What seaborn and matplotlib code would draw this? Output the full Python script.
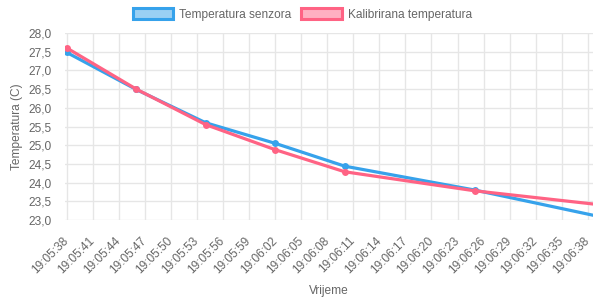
import pandas as pd
import numpy as np
import matplotlib
matplotlib.use('Agg')
import matplotlib.pyplot as plt
import matplotlib.dates as mdates
from matplotlib.patches import Patch
from matplotlib.ticker import FuncFormatter, MultipleLocator
import seaborn as sns

# readings (time, sensor temp, calibrated temp)
times = ['19:05:38', '19:05:46', '19:05:54', '19:06:02', '19:06:10', '19:06:25', '19:06:42']
senzor = [27.48, 26.49, 25.60, 25.05, 24.44, 23.80, 22.96]
kalibrirana = [27.60, 26.50, 25.55, 24.88, 24.29, 23.78, 23.34]
series_names = ['Temperatura senzora', 'Kalibrirana temperatura']
tick_times = pd.date_range('2024-01-01 19:05:38', '2024-01-01 19:06:38', freq='3s')

day = '2024-01-01 '
t = pd.to_datetime([day + s for s in times])
df = pd.concat([
    pd.DataFrame({'Vrijeme': t, 'temp': senzor, 'serija': series_names[0]}),
    pd.DataFrame({'Vrijeme': t, 'temp': kalibrirana, 'serija': series_names[1]}),
])

blue = '#36A2EB'
red = '#FF6384'
grey = '#666666'
gridc = '#e6e6e6'

sns.set_style('white')
plt.rcParams['font.family'] = ['Liberation Sans', 'DejaVu Sans']

fig = plt.figure(figsize=(5.93, 2.98), dpi=100)
ax = fig.add_axes([65 / 593, 78 / 298, 528 / 593, 187 / 298])

sns.lineplot(data=df, x='Vrijeme', y='temp', hue='serija', palette=[blue, red],
             marker='o', markersize=5, markeredgewidth=0, linewidth=2.3,
             ax=ax, legend=False, zorder=3)

ax.set_xlim(pd.Timestamp(day + '19:05:37.8'), pd.Timestamp(day + '19:06:38.6'))
ax.set_ylim(23, 28)
ax.yaxis.set_major_locator(MultipleLocator(0.5))
ax.yaxis.set_major_formatter(FuncFormatter(lambda v, p: f'{v:.1f}'.replace('.', ',')))
ax.set_xticks(tick_times)
ax.xaxis.set_major_formatter(mdates.DateFormatter('%H:%M:%S'))

ax.grid(True, color=gridc, linewidth=1)
for s in ax.spines.values():
    s.set_visible(False)
ax.tick_params(axis='both', colors=gridc, labelcolor=grey, labelsize=8.6, length=7, width=1, pad=3)
ax.tick_params(axis='x', pad=6.5)

for lab in ax.get_xticklabels():
    lab.set_rotation(45)
    lab.set_ha('right')
    lab.set_va('center')
    lab.set_rotation_mode('anchor')

ax.set_xlabel('Vrijeme', color=grey, fontsize=8.6)
ax.set_ylabel('Temperatura (C)', color=grey, fontsize=8.6)
ax.xaxis.set_label_coords(0.5, -0.345)
ax.yaxis.set_label_coords(-0.08, 0.5)

handles = [Patch(facecolor=blue + '80', edgecolor=blue, linewidth=2.2, label=series_names[0]),
           Patch(facecolor=red + '80', edgecolor=red, linewidth=2.2, label=series_names[1])]
leg = fig.legend(handles=handles, loc='upper center', bbox_to_anchor=(0.51, 1.0), ncol=2,
                 frameon=False, fontsize=8.6, handlelength=3.4, handleheight=1.0,
                 handletextpad=0.5, columnspacing=0.8, borderaxespad=0.3)
for txt in leg.get_texts():
    txt.set_color(grey)

plt.savefig('out.png', dpi=100)
